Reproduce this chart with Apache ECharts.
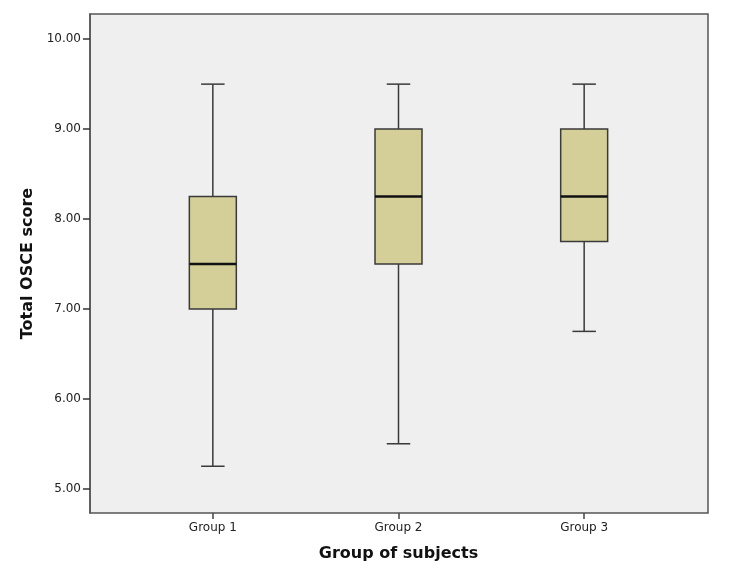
<!DOCTYPE html>
<html>
<head>
<meta charset="utf-8">
<script src="https://cdn.jsdelivr.net/npm/echarts@6/dist/echarts.min.js"></script>
<style>
  html, body { margin: 0; background: #fff; }
  #chart { width: 750px; height: 584px; }
</style>
</head>
<body>
<div id="chart"></div>
<script>
// box plot summary per group
var groups = ['Group 1', 'Group 2', 'Group 3'];
var lowWhisker = [5.25, 5.5, 6.75];
var q1 = [7.0, 7.5, 7.75];
var median = [7.5, 8.25, 8.25];
var q3 = [8.25, 9.0, 9.0];
var highWhisker = [9.5, 9.5, 9.5];
var yTicks = [5, 6, 7, 8, 9, 10];

var boxData = [];
for (var i = 0; i < groups.length; i++) {
  boxData.push([i, lowWhisker[i], q1[i], median[i], q3[i], highWhisker[i]]);
}

var yMin = 4.73, yMax = 10.28;
var font = 'DejaVu Sans';

function renderBox(params, api) {
  var idx = api.value(0);
  var lo = api.coord([idx, api.value(1)]);
  var a = api.coord([idx, api.value(2)]);
  var m = api.coord([idx, api.value(3)]);
  var b = api.coord([idx, api.value(4)]);
  var hi = api.coord([idx, api.value(5)]);
  var x = lo[0];
  var w = api.size([1, 0])[0] * 0.253;
  var cap = w / 4;
  var st = { stroke: '#3a3a3a', lineWidth: 1.5 };
  return {
    type: 'group',
    children: [
      { type: 'line', shape: { x1: x, y1: lo[1], x2: x, y2: a[1] }, style: st },
      { type: 'line', shape: { x1: x, y1: b[1], x2: x, y2: hi[1] }, style: st },
      { type: 'line', shape: { x1: x - cap, y1: lo[1], x2: x + cap, y2: lo[1] }, style: st },
      { type: 'line', shape: { x1: x - cap, y1: hi[1], x2: x + cap, y2: hi[1] }, style: st },
      { type: 'rect', shape: { x: x - w / 2, y: b[1], width: w, height: a[1] - b[1] },
        style: { fill: '#d4cf99', stroke: '#3a3a3a', lineWidth: 1.5 } },
      { type: 'line', shape: { x1: x - w / 2, y1: m[1], x2: x + w / 2, y2: m[1] },
        style: { stroke: '#111', lineWidth: 2.5 } }
    ]
  };
}

var myChart = echarts.init(document.getElementById('chart'));
myChart.setOption({
  animation: false,
  grid: [
    { left: 90, right: 42, top: 14, bottom: 71, show: true,
      backgroundColor: '#efefef', borderColor: '#555', borderWidth: 1.5 },
    { left: 120, width: 557, top: 14, bottom: 71 }
  ],
  xAxis: [
    { type: 'value', gridIndex: 0, min: 0, max: 1, show: false },
    {
      type: 'category', gridIndex: 1, data: groups,
      name: 'Group of subjects', nameLocation: 'middle', nameGap: 33,
      nameTextStyle: { fontFamily: font, fontSize: 16, fontWeight: 'bold', color: '#111' },
      axisLine: { show: false },
      axisTick: { show: true, alignWithLabel: true, length: 6, lineStyle: { color: '#444', width: 1.5 } },
      axisLabel: { fontFamily: font, fontSize: 12, color: '#222', margin: 9 }
    }
  ],
  yAxis: [
    {
      type: 'value', gridIndex: 0, min: yMin, max: yMax,
      name: 'Total OSCE score', nameLocation: 'middle', nameGap: 54,
      nameTextStyle: { fontFamily: font, fontSize: 16, fontWeight: 'bold', color: '#111' },
      splitLine: { show: false },
      axisLine: { show: true, lineStyle: { color: '#555', width: 1.5 } },
      axisTick: { show: true, inside: false, length: 7, customValues: yTicks, lineStyle: { color: '#333', width: 1.5 } },
      axisLabel: { fontFamily: font, fontSize: 12, color: '#222', margin: 9, customValues: yTicks,
        formatter: function (v) { return v.toFixed(2); } }
    },
    { type: 'value', gridIndex: 1, min: yMin, max: yMax, show: false }
  ],
  series: [{
    type: 'custom',
    xAxisIndex: 1,
    yAxisIndex: 1,
    renderItem: renderBox,
    encode: { x: 0, y: [1, 2, 3, 4, 5] },
    data: boxData,
    z: 5
  }]
});
</script>
</body>
</html>
